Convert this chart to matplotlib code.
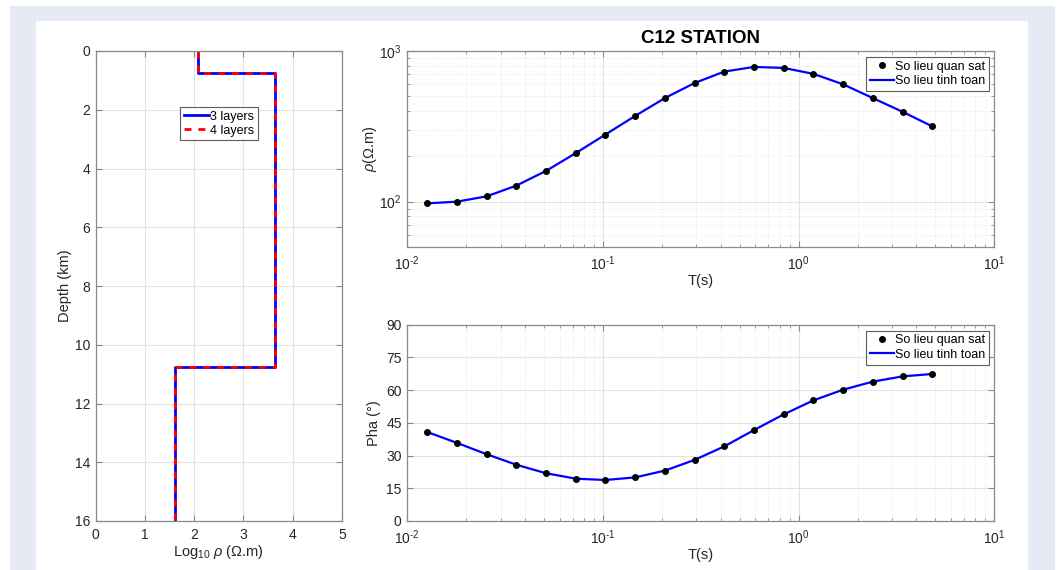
import numpy as np
import matplotlib
matplotlib.use("Agg")
import matplotlib.pyplot as plt
from matplotlib.patches import Rectangle
from matplotlib.lines import Line2D
from matplotlib.ticker import (LogLocator, NullFormatter, FixedLocator,
                               FuncFormatter)

plt.rcParams['font.family'] = ['Liberation Sans', 'DejaVu Sans']
plt.rcParams['mathtext.fontset'] = 'custom'
plt.rcParams['mathtext.rm'] = 'Liberation Sans'
plt.rcParams['mathtext.it'] = 'Liberation Sans:italic'
plt.rcParams['mathtext.bf'] = 'Liberation Sans:bold'
plt.rcParams['axes.unicode_minus'] = False

# ---- layered resistivity models (log10 rho per layer, interface depths in km)
model3_logrho = [2.08, 3.645, 1.615]
model3_interfaces = [0.76, 10.77]
model4_logrho = [2.08, 3.645, 1.615]
model4_interfaces = [0.76, 10.77]
max_depth = 16

# ---- sounding curves
period_s = [0.01265, 0.01795, 0.02546, 0.03606, 0.05117, 0.07261, 0.1030,
            0.1462, 0.2072, 0.2938, 0.4169, 0.5916, 0.8395, 1.190, 1.687,
            2.393, 3.396, 4.82]
rho_obs = [97.4, 100, 108.5, 127.7, 160, 210, 279, 371, 487, 613, 730, 784,
           772, 705, 601, 487, 395, 316]
rho_calc = [97.4, 100, 108.5, 127.7, 160, 210, 279, 371, 487, 613, 730, 784,
            772, 705, 601, 487, 395, 316]
phase_obs = [40.8, 35.8, 30.6, 25.8, 21.9, 19.4, 18.8, 20.0, 23.1, 28.0,
             34.2, 41.7, 48.9, 55.3, 60.2, 63.9, 66.3, 67.4]
phase_calc = [40.8, 35.8, 30.6, 25.8, 21.9, 19.4, 18.8, 20.0, 23.1, 28.0,
              34.2, 41.7, 48.9, 55.3, 60.2, 63.9, 66.3, 67.4]
phase_ticks = [0, 15, 30, 45, 60, 75, 90]

TXT = '#262626'
AXC = '#8a8a8a'
GRID = '#e3e3e3'
FS = 10


def step_profile(logrho, interfaces, bottom):
    xs, ys = [], []
    tops = [0] + list(interfaces)
    bots = list(interfaces) + [bottom]
    for r, t, b in zip(logrho, tops, bots):
        xs += [r, r]
        ys += [t, b]
    return xs, ys


def decade_label(v, pos):
    e = int(round(np.log10(v)))
    s = str(e).replace('-', '\u2010')
    return r'10$^{%s}$' % s


def style_axes(ax):
    for s in ax.spines.values():
        s.set_color(AXC)
        s.set_linewidth(0.9)
    ax.tick_params(which='both', direction='in', top=True, right=True,
                   color=AXC, labelcolor=TXT, labelsize=FS)
    ax.tick_params(which='major', length=4)
    ax.tick_params(which='minor', length=2.2)
    ax.tick_params(axis='x', which='major', pad=5)
    ax.tick_params(axis='y', which='major', pad=4)


fig = plt.figure(figsize=(10.58, 5.70), dpi=100)
fig.patch.set_facecolor('white')
fig.patches.append(Rectangle((10 / 1058, 0), 1045 / 1058, 564 / 570,
                             transform=fig.transFigure, facecolor='#e6eaf5',
                             edgecolor='none', zorder=-10))
fig.patches.append(Rectangle((36 / 1058, 0), 992 / 1058, 549 / 570,
                             transform=fig.transFigure, facecolor='white',
                             edgecolor='none', zorder=-9))

# ---- depth model panel
ax1 = fig.add_axes([95.7 / 1058, 49 / 570, 246.3 / 1058, 470 / 570])
x3, y3 = step_profile(model3_logrho, model3_interfaces, max_depth)
x4, y4 = step_profile(model4_logrho, model4_interfaces, max_depth)
ax1.plot(x3, y3, color='#0000ff', lw=2, label='3 layers')
ax1.plot(x4, y4, color='#ff0000', lw=2, ls=(0, (2.5, 2.5)), label='4 layers')
ax1.set_xlim(0, 5)
ax1.set_ylim(max_depth, 0)
ax1.set_xticks(range(0, 6))
ax1.set_yticks(range(0, 17, 2))
ax1.grid(True, color=GRID, lw=0.8)
ax1.set_axisbelow(True)
style_axes(ax1)
ax1.set_ylabel('Depth (km)', fontsize=FS + 0.5, color=TXT, labelpad=2)
ax1.set_xlabel(r'Log$_{10}$ $\rho$ ($\Omega$.m)', fontsize=FS + 0.5,
               color=TXT, labelpad=1)
leg1 = ax1.legend(loc='upper left', bbox_to_anchor=(0.342, 0.881),
                  borderaxespad=0, fontsize=FS - 1, frameon=True,
                  fancybox=False, handlelength=2.0, handletextpad=0.1,
                  borderpad=0.3, labelspacing=0.15, edgecolor='#333333')
leg1.get_frame().set_linewidth(0.8)

# ---- apparent resistivity panel
ax2 = fig.add_axes([407.3 / 1058, 323 / 570, 587 / 1058, 196 / 570])
ax2.plot(period_s, rho_calc, color='#0000ff', lw=1.6, zorder=3)
ax2.plot(period_s, rho_obs, ls='none', marker='o', ms=4, color='black',
         zorder=4)
ax2.set_xscale('log')
ax2.set_yscale('log')
ax2.set_xlim(1e-2, 1e1)
ax2.set_ylim(50, 1000)
ax2.yaxis.set_major_locator(FixedLocator([100, 1000]))
ax2.yaxis.set_minor_locator(LogLocator(base=10, subs=np.arange(2, 10)))
ax2.yaxis.set_minor_formatter(NullFormatter())
ax2.xaxis.set_minor_locator(LogLocator(base=10, subs=np.arange(2, 10)))
ax2.xaxis.set_minor_formatter(NullFormatter())
ax2.xaxis.set_major_formatter(FuncFormatter(decade_label))
ax2.yaxis.set_major_formatter(FuncFormatter(decade_label))
ax2.grid(True, which='major', color=GRID, lw=0.8)
ax2.grid(True, which='minor', color='#e8e8e8', lw=0.7, ls=(0, (1, 1.5)))
ax2.set_axisbelow(True)
style_axes(ax2)
ax2.set_title('C12 STATION', fontsize=13.5, fontweight='bold', color='black',
              pad=6)
ax2.set_xlabel('T(s)', fontsize=FS + 0.5, color=TXT, labelpad=1)
ax2.set_ylabel(r'$\rho$($\Omega$.m)', fontsize=FS + 0.5, color=TXT,
               labelpad=0)

# ---- phase panel
ax3 = fig.add_axes([407.3 / 1058, 49 / 570, 587 / 1058, 196.3 / 570])
ax3.plot(period_s, phase_calc, color='#0000ff', lw=1.6, zorder=3)
ax3.plot(period_s, phase_obs, ls='none', marker='o', ms=4, color='black',
         zorder=4)
ax3.set_xscale('log')
ax3.set_xlim(1e-2, 1e1)
ax3.set_ylim(0, 90)
ax3.set_yticks(phase_ticks)
ax3.xaxis.set_minor_locator(LogLocator(base=10, subs=np.arange(2, 10)))
ax3.xaxis.set_minor_formatter(NullFormatter())
ax3.xaxis.set_major_formatter(FuncFormatter(decade_label))
ax3.grid(True, which='major', color=GRID, lw=0.8)
ax3.grid(True, which='minor', axis='x', color='#e8e8e8', lw=0.7,
         ls=(0, (1, 1.5)))
ax3.set_axisbelow(True)
style_axes(ax3)
ax3.set_xlabel('T(s)', fontsize=FS + 0.5, color=TXT, labelpad=1)
ax3.set_ylabel('Pha (°)', fontsize=FS + 0.5, color=TXT, labelpad=4)

# legends for the sounding curves
handles = [Line2D([], [], ls='none', marker='o', ms=4, color='black'),
           Line2D([], [], color='#0000ff', lw=1.6)]
labels = ['So lieu quan sat', 'So lieu tinh toan']
for ax in (ax2, ax3):
    lg = ax.legend(handles, labels, loc='upper right',
                   bbox_to_anchor=(0.9906, 0.97), borderaxespad=0,
                   fontsize=FS - 1, frameon=True, fancybox=False,
                   handlelength=1.9, handletextpad=0.1, borderpad=0.3,
                   labelspacing=0.2, edgecolor='#333333')
    lg.get_frame().set_linewidth(0.8)

fig.savefig('out.png', dpi=100, facecolor=fig.get_facecolor())
